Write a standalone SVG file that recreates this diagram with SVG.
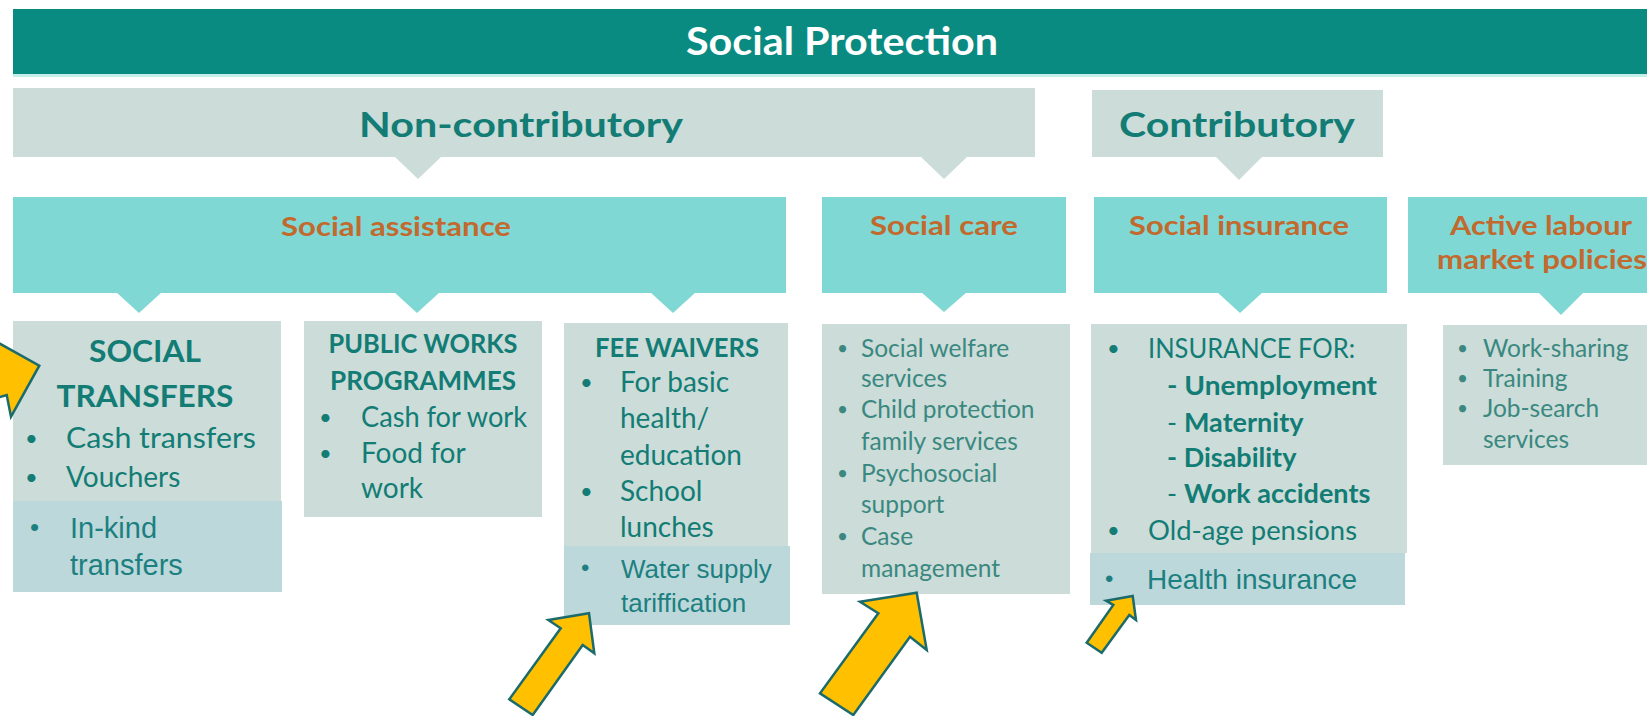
<svg xmlns="http://www.w3.org/2000/svg" width="1647" height="716" viewBox="0 0 1647 716">
<defs>
<style>
.t{font-family:Lato,"Liberation Sans",sans-serif}
.a{font-family:"Liberation Sans",Arial,sans-serif}
.b{font-weight:bold}
.gray{fill:#cbdcd9}
.turq{fill:#80d8d5}
.hl{fill:#bdd8db}
.teal{fill:#127c75}
.soft{fill:#3a8880}
.org{fill:#c2692e}
.arrow{fill:#ffc000;stroke:#1b6a6c;stroke-width:2.5;stroke-linejoin:miter}
</style>
</defs>
<rect width="1647" height="716" fill="#ffffff"/>

<g id="social-protection">
<rect x="13" y="9" width="1640" height="65" fill="#0a8b82"/>
<rect x="13" y="74" width="1640" height="3" fill="#c4eee9"/>
<text class="t b" x="842" y="55" font-size="39" fill="#ffffff" text-anchor="middle" textLength="312" lengthAdjust="spacingAndGlyphs">Social Protection</text>
</g>

<g id="non-contributory">
<rect class="gray" x="13" y="88" width="1022" height="69"/>
<text class="t b teal" x="521" y="137" font-size="35" text-anchor="middle" textLength="324" lengthAdjust="spacingAndGlyphs">Non-contributory</text>
</g>

<g id="contributory">
<rect class="gray" x="1092" y="90" width="291" height="67"/>
<text class="t b teal" x="1237" y="137" font-size="35" text-anchor="middle" textLength="236" lengthAdjust="spacingAndGlyphs">Contributory</text>
</g>

<g id="social-assistance">
<rect class="turq" x="13" y="197" width="773" height="96"/>
<text class="t b org" x="396" y="236" font-size="27" text-anchor="middle" textLength="230" lengthAdjust="spacingAndGlyphs">Social assistance</text>
</g>

<g id="social-care">
<rect class="turq" x="822" y="197" width="244" height="96"/>
<text class="t b org" x="944" y="235" font-size="27" text-anchor="middle" textLength="148" lengthAdjust="spacingAndGlyphs">Social care</text>
</g>

<g id="social-insurance">
<rect class="turq" x="1094" y="197" width="293" height="96"/>
<text class="t b org" x="1239" y="235" font-size="27" text-anchor="middle" textLength="220" lengthAdjust="spacingAndGlyphs">Social insurance</text>
</g>

<g id="active-labour">
<rect class="turq" x="1408" y="197" width="245" height="96"/>
<text class="t b org" x="1541" y="235" font-size="27" text-anchor="middle" textLength="182" lengthAdjust="spacingAndGlyphs">Active labour</text>
<text class="t b org" x="1542" y="269" font-size="27" text-anchor="middle" textLength="210" lengthAdjust="spacingAndGlyphs">market policies</text>
</g>

<g id="connectors">
<polygon class="gray" points="394,156 442,156 418,179"/>
<polygon class="gray" points="920,156 968,156 944,179"/>
<polygon class="gray" points="1215,156 1263,156 1239,180"/>
<polygon class="turq" points="116,292 162,292 139,313"/>
<polygon class="turq" points="394,292 440,292 417,313"/>
<polygon class="turq" points="650,292 696,292 673,313"/>
<polygon class="turq" points="921,292 967,292 944,312"/>
<polygon class="turq" points="1217,292 1263,292 1240,313"/>
<polygon class="turq" points="1538,292 1584,292 1561,315"/>
</g>

<g id="social-transfers">
<rect class="gray" x="13" y="321" width="268" height="180"/>
<rect class="hl" x="13" y="501" width="269" height="91"/>
<text class="t b teal" x="145" y="362" font-size="31" text-anchor="middle" textLength="112" lengthAdjust="spacingAndGlyphs">SOCIAL</text>
<text class="t b teal" x="145" y="407" font-size="31" text-anchor="middle" textLength="177" lengthAdjust="spacingAndGlyphs">TRANSFERS</text>
<text class="t teal" font-size="22"><tspan x="25" y="446">•</tspan><tspan x="25" y="485">•</tspan></text>
<text class="t teal" x="66" y="448" font-size="28" textLength="190" lengthAdjust="spacingAndGlyphs">Cash transfers</text>
<text class="t teal" x="66" y="487" font-size="28">Vouchers</text>
<text class="a" x="30" y="536" font-size="26" fill="#1c8080">•</text>
<text class="a" font-size="29" fill="#1c8080"><tspan x="70" y="538">In-kind</tspan><tspan x="70" y="575">transfers</tspan></text>
</g>

<g id="public-works">
<rect class="gray" x="304" y="321" width="238" height="196"/>
<text class="t b teal" x="423" y="353" font-size="26" text-anchor="middle" textLength="189" lengthAdjust="spacingAndGlyphs">PUBLIC WORKS</text>
<text class="t b teal" x="423" y="390" font-size="26" text-anchor="middle" textLength="186" lengthAdjust="spacingAndGlyphs">PROGRAMMES</text>
<text class="t teal" font-size="22"><tspan x="319" y="425">•</tspan><tspan x="319" y="461">•</tspan></text>
<text class="t teal" x="361" y="427" font-size="28" textLength="166" lengthAdjust="spacingAndGlyphs">Cash for work</text>
<text class="t teal" font-size="28"><tspan x="361" y="463">Food for</tspan><tspan x="361" y="498">work</tspan></text>
</g>

<g id="fee-waivers">
<rect class="gray" x="564" y="323" width="224" height="223"/>
<rect class="hl" x="564" y="546" width="226" height="79"/>
<text class="t b teal" x="677" y="357" font-size="26" text-anchor="middle" textLength="164" lengthAdjust="spacingAndGlyphs">FEE WAIVERS</text>
<text class="t teal" font-size="22"><tspan x="580" y="390">•</tspan><tspan x="580" y="499">•</tspan></text>
<text class="t teal" font-size="28"><tspan x="620" y="392">For basic</tspan><tspan x="620" y="428">health/</tspan><tspan x="620" y="465">education</tspan><tspan x="620" y="501">School</tspan><tspan x="620" y="537">lunches</tspan></text>
<text class="a" x="581" y="576" font-size="24" fill="#1c8080">•</text>
<text class="a" font-size="26" fill="#1c8080"><tspan x="621" y="578">Water supply</tspan><tspan x="621" y="612">tariffication</tspan></text>
</g>

<g id="social-care-items">
<rect class="gray" x="822" y="324" width="248" height="270"/>
<text class="t soft" font-size="19"><tspan x="837" y="355">•</tspan><tspan x="837" y="416">•</tspan><tspan x="837" y="480">•</tspan><tspan x="837" y="543">•</tspan></text>
<text class="t soft" font-size="24.5"><tspan x="861" y="357">Social welfare</tspan><tspan x="861" y="387">services</tspan><tspan x="861" y="418">Child protection</tspan><tspan x="861" y="450">family services</tspan><tspan x="861" y="482">Psychosocial</tspan><tspan x="861" y="513">support</tspan><tspan x="861" y="545">Case</tspan><tspan x="861" y="577">management</tspan></text>
</g>

<g id="insurance-items">
<rect class="gray" x="1091" y="324" width="316" height="229"/>
<rect class="hl" x="1090" y="553" width="315" height="52"/>
<text class="t teal" font-size="22"><tspan x="1107" y="356">•</tspan><tspan x="1107" y="538">•</tspan></text>
<text class="t teal" x="1148" y="358" font-size="27" textLength="207" lengthAdjust="spacingAndGlyphs">INSURANCE FOR:</text>
<text class="t b teal" x="1167" y="395" font-size="27" textLength="210" lengthAdjust="spacingAndGlyphs">- Unemployment</text>
<text class="t teal" font-size="27"><tspan x="1167" y="432">- </tspan><tspan class="b">Maternity</tspan></text>
<text class="t b teal" x="1167" y="467" font-size="27">- Disability</text>
<text class="t teal" font-size="27"><tspan x="1167" y="503">- </tspan><tspan class="b">Work accidents</tspan></text>
<text class="t teal" x="1148" y="540" font-size="27" textLength="209" lengthAdjust="spacingAndGlyphs">Old-age pensions</text>
<text class="a" x="1105" y="587" font-size="24" fill="#1c8080">•</text>
<text class="a" x="1147" y="589" font-size="28" fill="#1c8080">Health insurance</text>
</g>

<g id="almp-items">
<rect class="gray" x="1443" y="325" width="210" height="140"/>
<text class="t soft" font-size="19"><tspan x="1457" y="355">•</tspan><tspan x="1457" y="385">•</tspan><tspan x="1457" y="415">•</tspan></text>
<text class="t soft" font-size="24.5"><tspan x="1483" y="357">Work-sharing</tspan><tspan x="1483" y="387">Training</tspan><tspan x="1483" y="417">Job-search</tspan><tspan x="1483" y="448">services</tspan></text>
</g>

<g id="highlight-arrows">
<polygon class="arrow" points="-12,337 39.3,365.7 11,416.7 6.7,395 -20,403 -20,337"/>
<polygon class="arrow" points="548.3,620 589,613.3 594.3,653.3 582.7,645 532.7,715 509.3,699.3 560.7,628.3"/>
<polygon class="arrow" points="860,601.7 916.7,592.7 926.7,650 910,636.7 853.3,715 820,693.3 878.3,613.3"/>
<polygon class="arrow" points="1106,600.7 1132.7,596 1136,620 1129.3,615 1101.7,652.7 1086.7,642.7 1113.3,605"/>
</g>
</svg>
